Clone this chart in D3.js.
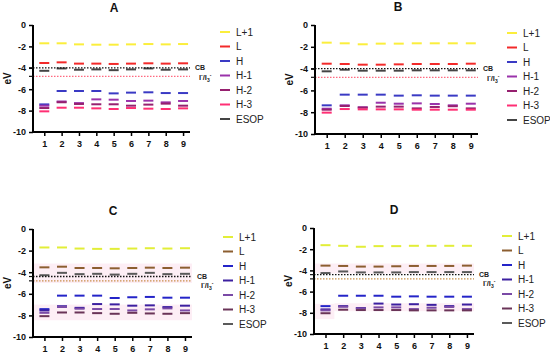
<!DOCTYPE html>
<html>
<head>
<meta charset="utf-8">
<script src="https://cdn.jsdelivr.net/npm/d3@7"></script>
<style>
body { margin: 0; background: #fff; }
svg { display: block; font-family: Arial, "Liberation Sans", sans-serif; }
</style>
</head>
<body>
<svg id="chart" width="550" height="353"></svg>
<script>
// Dyes on the x axis
var dyes = [1, 2, 3, 4, 5, 6, 7, 8, 9];
var levelNames = ["L+1", "L", "H", "H-1", "H-2", "H-3", "ESOP"];
var yTicks = [0, -2, -4, -6, -8, -10];

// Energies (eV) used in panels A and C
var lumo1AC = [-1.71, -1.71, -1.81, -1.84, -1.84, -1.81, -1.78, -1.81, -1.78];
var lumoAC  = [-3.55, -3.49, -3.61, -3.61, -3.64, -3.61, -3.58, -3.61, -3.58];
var homoAC  = [-7.42, -6.17, -6.17, -6.17, -6.39, -6.32, -6.29, -6.36, -6.36];
var homo1AC = [-7.54, -7.15, -7.30, -6.95, -6.98, -7.10, -7.07, -7.23, -7.10];
var homo2AC = [-7.76, -7.22, -7.38, -7.41, -7.41, -7.54, -7.44, -7.35, -7.54];
var homo3AC = [-8.07, -7.73, -7.73, -7.79, -7.85, -7.76, -7.82, -7.85, -7.79];
var esopAC  = [-4.28, -4.06, -4.18, -4.15, -4.22, -4.15, -4.06, -4.18, -4.15];

// Energies (eV) used in panels B and D
var lumo1BD = [-1.62, -1.68, -1.77, -1.71, -1.71, -1.68, -1.68, -1.68, -1.68];
var lumoBD  = [-3.55, -3.58, -3.64, -3.64, -3.61, -3.58, -3.58, -3.58, -3.55];
var homoBD  = [-7.37, -6.39, -6.39, -6.39, -6.48, -6.45, -6.48, -6.48, -6.48];
var homo1BD = [-7.68, -7.37, -7.55, -7.13, -7.22, -7.19, -7.25, -7.37, -7.22];
var homo2BD = [-7.77, -7.43, -7.58, -7.49, -7.49, -7.65, -7.52, -7.45, -7.65];
var homo3BD = [-8.04, -7.71, -7.74, -7.74, -7.74, -7.77, -7.77, -7.77, -7.77];
var esopBD  = [-4.25, -4.10, -4.19, -4.19, -4.19, -4.16, -4.16, -4.16, -4.16];

// Reference levels
var cbAB = -4.0, cbCD = -4.4, iodide = -4.8;

// Faint highlighted bands in C and D: [dyeFrom, dyeTo, eVtop, eVbottom]
var bandsC = [[0.35, 9.4, -3.2, -5.0], [0.35, 9.4, -7.0, -8.45]];
var bandsD = [[0.35, 9.4, -3.35, -4.3], [1.5, 9.4, -7.1, -7.85], [0.35, 1.5, -7.15, -8.6]];

var colorsAB = ["#fbee3c", "#f22a2a", "#3a3ac4", "#9a33aa", "#96206f", "#ff2f74", "#444444"];
var colorsCD = ["#e2ee38", "#8c5e30", "#2424c8", "#3c20a0", "#7a4aa6", "#6a3458", "#5a5a5a"];

var panels = [
    { title: "A", x: 33, y: 25, w: 157, h: 107, titleX: 114, titleY: 12, legX: 220, legY: 32,
      cb: cbAB, iodColor: "#ff6a80", colors: colorsAB, bands: [],
      data: [lumo1AC, lumoAC, homoAC, homo1AC, homo2AC, homo3AC, esopAC] },
    { title: "B", x: 315, y: 25, w: 163, h: 109, titleX: 398, titleY: 11, legX: 507, legY: 33,
      cb: cbAB, iodColor: "#ff6a80", colors: colorsAB, bands: [],
      data: [lumo1BD, lumoBD, homoBD, homo1BD, homo2BD, homo3BD, esopBD] },
    { title: "C", x: 33, y: 229, w: 159, h: 108, titleX: 113, titleY: 215, legX: 223, legY: 237,
      cb: cbCD, iodColor: "#c8904a", colors: colorsCD, bands: bandsC,
      data: [lumo1AC, lumoAC, homoAC, homo1AC, homo2AC, homo3AC, esopAC] },
    { title: "D", x: 314, y: 228, w: 160, h: 106, titleX: 394, titleY: 214, legX: 502, legY: 236,
      cb: cbCD, iodColor: "#c8904a", colors: colorsCD, bands: bandsD,
      data: [lumo1BD, lumoBD, homoBD, homo1BD, homo2BD, homo3BD, esopBD] }
];

var svg = d3.select("#chart");

panels.forEach(function(p) {
    var x = d3.scaleLinear().domain([0.35, 9.4]).range([0, p.w]);
    var y = d3.scaleLinear().domain([0, -10]).range([0, p.h]);

    var g = svg.append("g")
        .attr("transform", "translate(" + p.x + "," + p.y + ")");

    // highlighted bands
    g.selectAll(".band")
        .data(p.bands)
        .enter()
        .append("rect")
        .attr("x", function(d) { return x(d[0]); })
        .attr("width", function(d) { return x(d[1]) - x(d[0]); })
        .attr("y", function(d) { return y(d[2]); })
        .attr("height", function(d) { return y(d[3]) - y(d[2]); })
        .attr("fill", "#fdeef5");

    // energy levels, one short bar per dye
    p.data.forEach(function(series, k) {
        g.selectAll(".lvl" + k)
            .data(series)
            .enter()
            .append("line")
            .attr("x1", function(d, i) { return x(dyes[i]) - 5; })
            .attr("x2", function(d, i) { return x(dyes[i]) + 5; })
            .attr("y1", function(d) { return y(d); })
            .attr("y2", function(d) { return y(d); })
            .attr("stroke", p.colors[k])
            .attr("stroke-width", 2);
    });

    // CB and I-/I3- reference lines
    g.append("line")
        .attr("x1", 0).attr("x2", p.w)
        .attr("y1", y(p.cb)).attr("y2", y(p.cb))
        .attr("stroke", "#111")
        .attr("stroke-width", 1.3)
        .attr("stroke-dasharray", "1.5,1.5");

    g.append("line")
        .attr("x1", 0).attr("x2", p.w)
        .attr("y1", y(iodide)).attr("y2", y(iodide))
        .attr("stroke", p.iodColor)
        .attr("stroke-width", 1.2)
        .attr("stroke-dasharray", "1.5,1.5");

    g.append("text")
        .attr("x", p.w + 5)
        .attr("y", y(p.cb) + 2)
        .attr("font-size", 7)
        .attr("font-weight", "bold")
        .attr("fill", "#222")
        .text("CB");

    var iodLabel = g.append("text")
        .attr("x", p.w + 9)
        .attr("y", Math.max(y(iodide) + 4, y(p.cb) + 11))
        .attr("font-size", 7.5)
        .attr("font-weight", "bold")
        .attr("fill", "#222");
    iodLabel.append("tspan").text("I");
    iodLabel.append("tspan").attr("dy", -3).attr("font-size", 5).text("-");
    iodLabel.append("tspan").attr("dy", 3).text("/I");
    iodLabel.append("tspan").attr("dy", 2).attr("font-size", 5).text("3");
    iodLabel.append("tspan").attr("dy", -5).attr("font-size", 5).text("-");

    // y axis
    var yAxis = d3.axisLeft(y)
        .tickValues(yTicks)
        .tickSize(4)
        .tickFormat(d3.format("d"));

    g.append("g")
        .call(yAxis)
        .call(function(a) {
            a.select(".domain").attr("stroke-width", 2).attr("d", "M0,0V" + p.h);
            a.selectAll(".tick line").attr("stroke-width", 1.5);
            a.selectAll("text")
                .attr("font-size", 9)
                .attr("font-weight", "bold")
                .attr("font-family", "Arial, 'Liberation Sans', sans-serif")
                .attr("fill", "#111")
                .text(function(d) { return d === 0 ? "0" : "-" + Math.abs(d); });
        });

    // small extra marks at the reference levels
    g.selectAll(".refTick")
        .data([p.cb, iodide])
        .enter()
        .append("line")
        .attr("x1", -4).attr("x2", 0)
        .attr("y1", function(d) { return y(d); })
        .attr("y2", function(d) { return y(d); })
        .attr("stroke", "#111")
        .attr("stroke-width", 1.2);

    // x axis
    var xAxis = d3.axisBottom(x)
        .tickValues(dyes)
        .tickSize(4)
        .tickFormat(d3.format("d"));

    g.append("g")
        .attr("transform", "translate(0," + p.h + ")")
        .call(xAxis)
        .call(function(a) {
            a.select(".domain").attr("stroke-width", 2).attr("d", "M0,0H" + p.w);
            a.selectAll(".tick line").attr("stroke-width", 1.5);
            a.selectAll("text")
                .attr("font-size", 9)
                .attr("font-weight", "bold")
                .attr("font-family", "Arial, 'Liberation Sans', sans-serif")
                .attr("fill", "#111")
                .attr("dy", "0.9em");
        });

    // axis label
    g.append("text")
        .attr("transform", "translate(-22," + y(-5) + ") rotate(-90)")
        .attr("text-anchor", "middle")
        .attr("font-size", 10)
        .attr("font-weight", "bold")
        .attr("fill", "#111")
        .text("eV");

    // panel title
    svg.append("text")
        .attr("x", p.titleX)
        .attr("y", p.titleY)
        .attr("text-anchor", "middle")
        .attr("font-size", 12)
        .attr("font-weight", "bold")
        .attr("fill", "#111")
        .text(p.title);

    // legend
    var leg = svg.append("g")
        .attr("transform", "translate(" + p.legX + "," + p.legY + ")");

    var rows = leg.selectAll(".row")
        .data(levelNames)
        .enter()
        .append("g")
        .attr("transform", function(d, i) { return "translate(0," + (i * 14.5) + ")"; });

    rows.append("line")
        .attr("x1", 0).attr("x2", 10)
        .attr("y1", 0).attr("y2", 0)
        .attr("stroke", function(d, i) { return p.colors[i]; })
        .attr("stroke-width", 2);

    rows.append("text")
        .attr("x", 16)
        .attr("y", 3.5)
        .attr("font-size", 10)
        .attr("fill", "#222")
        .text(function(d) { return d; });
});
</script>
</body>
</html>
